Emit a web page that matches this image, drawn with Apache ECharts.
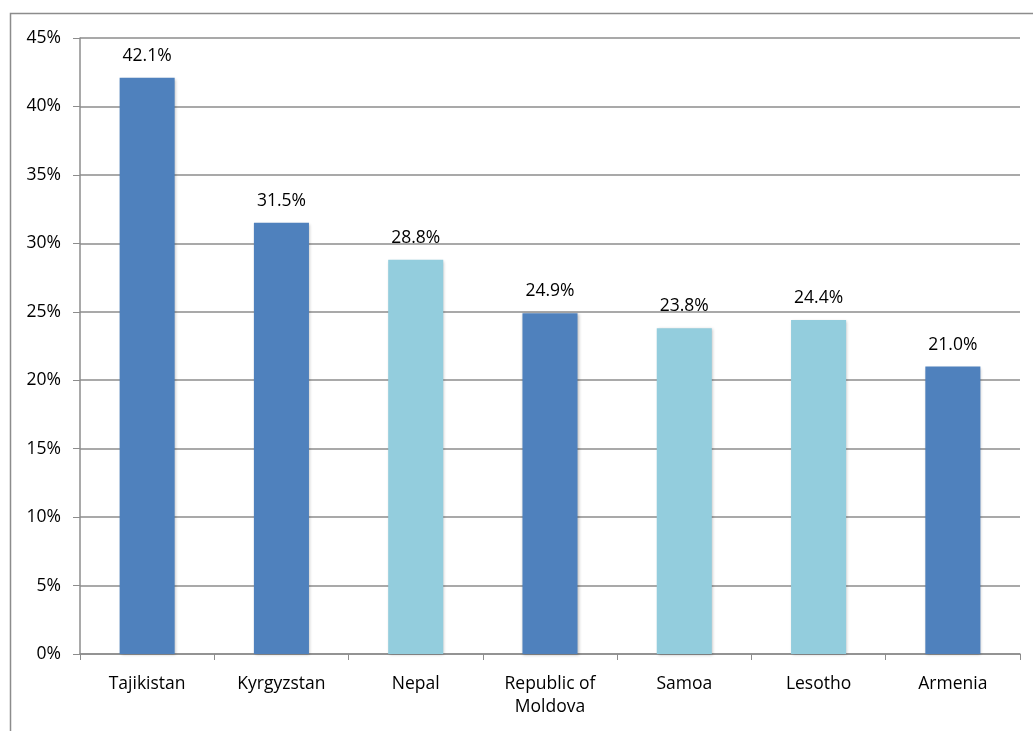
<!DOCTYPE html>
<html><head><meta charset="utf-8">
<script src="https://cdn.jsdelivr.net/npm/echarts@6/dist/echarts.min.js"></script>
<style>html,body{margin:0;padding:0;background:#fff}#c{width:1033px;height:731px}</style>
</head><body><div id="c"></div>
<script>
const categories = ['Tajikistan','Kyrgyzstan','Nepal','Republic of\nMoldova','Samoa','Lesotho','Armenia'];
const values = [42.1, 31.5, 28.8, 24.9, 23.8, 24.4, 21.0];
const shades = ['dark','dark','light','dark','light','light','dark'];
const yTicks = [0,5,10,15,20,25,30,35,40,45];
const palette = {dark:'#4f81bd', light:'#93cddd'};
const font = '"Open Sans", "Liberation Sans", sans-serif';
const chart = echarts.init(document.getElementById('c'));
chart.setOption({
  animation:false,
  graphic:[{type:'rect',left:8,top:11,shape:{width:1100,height:800},style:{fill:'none',stroke:'#8c8c8c',lineWidth:1.5},z:-1}],
  grid:{left:80,right:13,top:38,bottom:77,containLabel:false},
  xAxis:{type:'category',data:categories,
    axisLine:{lineStyle:{color:'#8c8c8c',width:1.5}},
    axisTick:{show:true,length:6,lineStyle:{color:'#8c8c8c'}},
    axisLabel:{color:'#000',fontFamily:font,fontSize:17.5,margin:19,lineHeight:23}},
  yAxis:{type:'value',min:yTicks[0],max:yTicks[yTicks.length-1],interval:5,
    axisLine:{show:true,lineStyle:{color:'#8c8c8c',width:1.5}},
    axisTick:{show:true,length:7,lineStyle:{color:'#8c8c8c'}},
    splitLine:{lineStyle:{color:'#8c8c8c',width:1.5}},
    axisLabel:{color:'#000',fontFamily:font,fontSize:17.5,margin:19,formatter:v=>v+'%'}},
  series:[{type:'bar',barWidth:'41%',
    data:values.map((v,i)=>({value:v,itemStyle:{color:palette[shades[i]]}})),
    itemStyle:{shadowBlur:3,shadowColor:'rgba(0,0,0,0.25)',shadowOffsetX:1,shadowOffsetY:1},
    label:{show:true,position:'top',distance:13,color:'#000',fontFamily:font,fontSize:17.5,formatter:p=>p.value.toFixed(1)+'%'}}]
});
</script></body></html>
